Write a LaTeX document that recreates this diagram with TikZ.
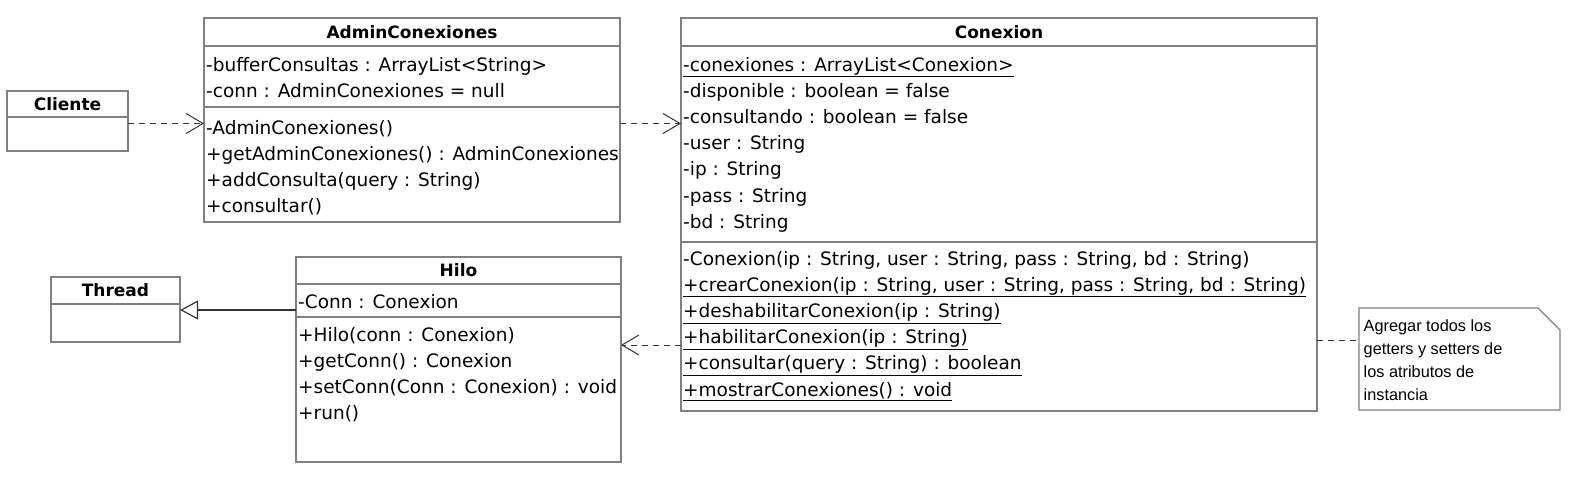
\documentclass[tikz,border=0pt]{standalone}
\usepackage{fontspec}
\setmainfont{DejaVu Sans}
\newfontfamily\notefont{Liberation Sans}
\usetikzlibrary{positioning, arrows.meta}
\tikzset{
	header/.style={draw=black!50, line width=1.2pt, rectangle, inner sep=0pt, outer sep=0pt, font=\fontsize{17}{20}\selectfont\bfseries},
	compart/.style={draw=black!50, line width=1.2pt, rectangle, inner sep=0pt, outer sep=0pt},
	members/.style={anchor=north west, inner sep=0pt, align=left, font=\fontsize{18.5}{26.2}\selectfont, execute at begin node=\strut},
	notebox/.style={draw=black!50, line width=1.2pt},
	notetext/.style={anchor=north west, inner sep=0pt, align=left, font=\notefont\fontsize{16.3}{23}\selectfont, execute at begin node=\strut},
	dep/.style={black!80, line width=1pt, dash pattern=on 6pt off 5pt, -{Straight Barb[length=17pt, width=20pt]}},
	gen/.style={black!80, line width=1.2pt, -{Triangle[open, length=18pt, width=19pt]}},
	noteline/.style={black!80, line width=1pt, dash pattern=on 6pt off 5pt},
}

\begin{document}
\begin{tikzpicture}[x=1pt, y=-1pt]
	\useasboundingbox (0,0) rectangle (1576,486);
	
	% Cliente
	\node (cliente) [header, minimum width=121pt, minimum height=26pt, anchor=north west] at (7,91) {Cliente};
	\node (clienteBody) [compart, minimum width=121pt, minimum height=34pt, below=0pt of cliente] {};
	
	% AdminConexiones
	\node (admin) [header, minimum width=416pt, minimum height=28pt, anchor=north west] at (204,18) {AdminConexiones};
	\node (adminAttr) [compart, minimum width=416pt, minimum height=61pt, below=0pt of admin] {};
	\node (adminOps) [compart, minimum width=416pt, minimum height=115pt, below=0pt of adminAttr] {};
	\node (adminAttrTxt) [members] at ([xshift=2pt, yshift=-11.1pt]adminAttr.north west) {-bufferConsultas : ArrayList<String>\\-conn : AdminConexiones = null};
	\node (adminOpsTxt) [members] at ([xshift=2pt, yshift=-12.9pt]adminOps.north west) {-AdminConexiones()\\+getAdminConexiones() : AdminConexiones\\+addConsulta(query : String)\\+consultar()};
	
	% Conexion
	\node (conexion) [header, minimum width=636pt, minimum height=28pt, anchor=north west] at (681,18) {Conexion};
	\node (conexionAttr) [compart, minimum width=636pt, minimum height=196pt, below=0pt of conexion] {};
	\node (conexionOps) [compart, minimum width=636pt, minimum height=169pt, below=0pt of conexionAttr] {};
	\node (conexionAttrTxt) [members] at ([xshift=2pt, yshift=-10.8pt]conexionAttr.north west) {\underline{-conexiones : ArrayList<Conexion>}\\-disponible : boolean = false\\-consultando : boolean = false\\-user : String\\-ip : String\\-pass : String\\-bd : String};
	\node (conexionOpsTxt) [members] at ([xshift=2pt, yshift=-8.8pt]conexionOps.north west) {-Conexion(ip : String, user : String, pass : String, bd : String)\\\underline{+crearConexion(ip : String, user : String, pass : String, bd : String)}\\\underline{+deshabilitarConexion(ip : String)}\\\underline{+habilitarConexion(ip : String)}\\\underline{+consultar(query : String) : boolean}\\\underline{+mostrarConexiones() : void}};
	
	% Thread
	\node (thread) [header, minimum width=129pt, minimum height=27pt, anchor=north west] at (51,277) {Thread};
	\node (threadBody) [compart, minimum width=129pt, minimum height=38pt, below=0pt of thread] {};
	
	% Hilo
	\node (hilo) [header, minimum width=325pt, minimum height=27pt, anchor=north west] at (296,257) {Hilo};
	\node (hiloAttr) [compart, minimum width=325pt, minimum height=33pt, below=0pt of hilo] {};
	\node (hiloOps) [compart, minimum width=325pt, minimum height=145pt, below=0pt of hiloAttr] {};
	\node (hiloAttrTxt) [members] at ([xshift=2pt, yshift=-6.1pt]hiloAttr.north west) {-Conn : Conexion};
	\node (hiloOpsTxt) [members] at ([xshift=2pt, yshift=-9.8pt]hiloOps.north west) {+Hilo(conn : Conexion)\\+getConn() : Conexion\\+setConn(Conn : Conexion) : void\\+run()};
	
	% nota
	\node (note) [minimum width=201pt, minimum height=102pt, inner sep=0pt, outer sep=0pt, anchor=north west] at (1359,308) {};
	\draw [notebox] (note.north west) -- ([xshift=-22pt]note.north east) -- ([yshift=-22pt]note.north east) -- (note.south east) -- (note.south west) -- cycle;
	\node (noteTxt) [notetext] at ([xshift=4.5pt, yshift=-11.8pt]note.north west) {Agregar todos los\\getters y setters de\\los atributos de\\instancia};
	
	% conectores
	\coordinate (depA) at (0,123.5);
	\coordinate (depB) at (0,345);
	\coordinate (genY) at (0,310);
	\coordinate (noteY) at (0,340);
	\draw [dep] (clienteBody.east |- depA) -- (adminOps.west |- depA);
	\draw [dep] (adminOps.east |- depA) -- (conexionAttr.west |- depA);
	\draw [dep] (conexionOps.west |- depB) -- (hiloOps.east |- depB);
	\draw [gen] (hiloAttr.west |- genY) -- (threadBody.east |- genY);
	\draw [noteline] (conexionOps.east |- noteY) -- (note.west |- noteY);
\end{tikzpicture}
\end{document}
